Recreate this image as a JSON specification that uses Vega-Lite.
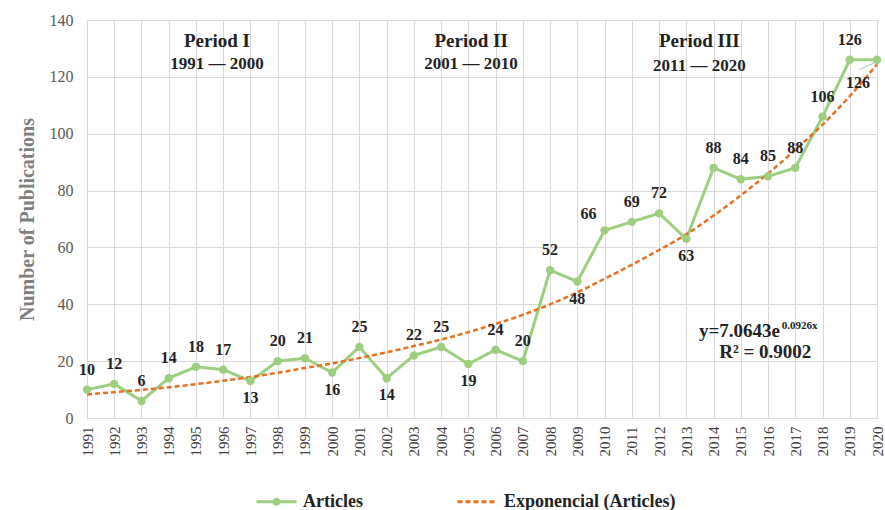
{
  "$schema": "https://vega.github.io/schema/vega-lite/v6.json",
  "width": 790,
  "height": 398,
  "autosize": "none",
  "padding": {"left": 87, "top": 20, "right": 8, "bottom": 92},
  "background": "white",
  "config": {
    "view": {"stroke": "#B0B0B0", "strokeWidth": 1},
    "font": "Liberation Serif",
    "legend": {
      "orient": "none", "legendX": 168, "legendY": 460, "direction": "horizontal",
      "title": null, "labelFont": "Liberation Serif", "labelFontSize": 18, "labelFontWeight": "bold",
      "labelColor": "#222222", "symbolType": "stroke", "symbolSize": 1600, "symbolStrokeWidth": 3,
      "columnPadding": 88, "labelOffset": 5, "labelLimit": 0, "padding": 0
    }
  },
  "datasets": {
    "articles": [
      {"year": 1991, "n": 10}, {"year": 1992, "n": 12}, {"year": 1993, "n": 6}, {"year": 1994, "n": 14},
      {"year": 1995, "n": 18}, {"year": 1996, "n": 17}, {"year": 1997, "n": 13}, {"year": 1998, "n": 20},
      {"year": 1999, "n": 21}, {"year": 2000, "n": 16}, {"year": 2001, "n": 25}, {"year": 2002, "n": 14},
      {"year": 2003, "n": 22}, {"year": 2004, "n": 25}, {"year": 2005, "n": 19}, {"year": 2006, "n": 24},
      {"year": 2007, "n": 20}, {"year": 2008, "n": 52}, {"year": 2009, "n": 48}, {"year": 2010, "n": 66},
      {"year": 2011, "n": 69}, {"year": 2012, "n": 72}, {"year": 2013, "n": 63}, {"year": 2014, "n": 88},
      {"year": 2015, "n": 84}, {"year": 2016, "n": 85}, {"year": 2017, "n": 88}, {"year": 2018, "n": 106},
      {"year": 2019, "n": 126}, {"year": 2020, "n": 126}
    ],
    "trend": [
      {"year": 1991, "n": 8.3}, {"year": 1992, "n": 9.1}, {"year": 1993, "n": 9.9}, {"year": 1994, "n": 10.8},
      {"year": 1995, "n": 11.9}, {"year": 1996, "n": 13.1}, {"year": 1997, "n": 14.4}, {"year": 1998, "n": 15.9},
      {"year": 1999, "n": 17.6}, {"year": 2000, "n": 19.2}, {"year": 2001, "n": 21.1}, {"year": 2002, "n": 23.1},
      {"year": 2003, "n": 25.3}, {"year": 2004, "n": 27.6}, {"year": 2005, "n": 30.2}, {"year": 2006, "n": 33.1},
      {"year": 2007, "n": 36.3}, {"year": 2008, "n": 40.0}, {"year": 2009, "n": 44.2}, {"year": 2010, "n": 49.0},
      {"year": 2011, "n": 53.9}, {"year": 2012, "n": 59.1}, {"year": 2013, "n": 64.6}, {"year": 2014, "n": 71.2},
      {"year": 2015, "n": 78.3}, {"year": 2016, "n": 86.0}, {"year": 2017, "n": 94.3}, {"year": 2018, "n": 103.2},
      {"year": 2019, "n": 113.2}, {"year": 2020, "n": 124.4}
    ],
    "periodTitles": [
      {"year": 1995.77, "n": 130.5, "label": "Period I"},
      {"year": 2005.1, "n": 130.5, "label": "Period II"},
      {"year": 2013.48, "n": 130.5, "label": "Period III"}
    ],
    "periodRanges": [
      {"year": 1995.77, "n": 122.6, "label": "1991 — 2000"},
      {"year": 2005.1, "n": 122.6, "label": "2001 — 2010"},
      {"year": 2013.48, "n": 122.2, "label": "2011 — 2020"}
    ],
    "eqMain": [{"year": 2016.44, "n": 28.6, "label": "y=7.0643e"}],
    "eqSup": [{"year": 2016.5, "n": 31.2, "label": "0.0926x"}],
    "eqR2": [{"year": 2015.9, "n": 21.2, "label": "R² = 0.9002"}],
    "dividers": [{"year": 2000}, {"year": 2010}],
    "leader": [{"year": 2019.35, "n": 122.5}, {"year": 2019.95, "n": 125.2}]
  },
  "encoding": {
    "x": {
      "field": "year", "type": "quantitative",
      "scale": {"domain": [1991, 2020], "nice": false, "zero": false},
      "axis": {
        "values": [1991,1992,1993,1994,1995,1996,1997,1998,1999,2000,2001,2002,2003,2004,2005,2006,2007,2008,2009,2010,2011,2012,2013,2014,2015,2016,2017,2018,2019,2020],
        "format": "d", "labelAngle": -90, "labelFontSize": 15, "labelColor": "#404040",
        "labelPadding": 8, "ticks": false, "domain": false, "grid": true, "gridColor": "#D9D9D9",
        "title": null, "labelFont": "Liberation Serif", "labelFlush": false, "labelOverlap": false
      }
    },
    "y": {
      "field": "n", "type": "quantitative",
      "scale": {"domain": [0, 140], "nice": false},
      "axis": {
        "values": [0, 20, 40, 60, 80, 100, 120, 140],
        "labelFontSize": 16, "labelColor": "#595959", "labelPadding": 14, "ticks": false,
        "domain": false, "grid": true, "gridColor": "#D9D9D9",
        "title": "Number of Publications", "titleFontSize": 20, "titleFontWeight": "bold",
        "titleColor": "#7F7F7F", "titlePadding": 12, "titleFont": "Liberation Serif",
        "labelFont": "Liberation Serif"
      }
    }
  },
  "layer": [
    {
      "data": {"name": "dividers"},
      "mark": {"type": "rule", "color": "#4472C4", "strokeWidth": 2},
      "encoding": {"y": {"datum": 0, "type": "quantitative"}, "y2": {"datum": 140}}
    },
    {
      "data": {"name": "articles"},
      "mark": {"type": "line", "strokeWidth": 3},
      "encoding": {
        "color": {
          "datum": "Articles", "type": "nominal",
          "scale": {"domain": ["Articles", "Exponencial (Articles)"], "range": ["#9CCF7E", "#E8701F"]},
          "legend": {
            "encode": {
              "symbols": {
                "update": {
                  "shape": {"signal": "datum.value === 'Articles' ? 'M-1,0H1M0.12,0A0.12,0.12 0 1 1 -0.12,0A0.12,0.12 0 1 1 0.12,0' : 'stroke'"}
                }
              }
            }
          }
        },
        "strokeDash": {
          "datum": "Articles", "type": "nominal",
          "scale": {"domain": ["Articles", "Exponencial (Articles)"], "range": [[1, 0], [5, 3]]}
        }
      }
    },
    {
      "data": {"name": "trend"},
      "mark": {"type": "line", "strokeWidth": 2.5, "interpolate": "monotone"},
      "encoding": {
        "color": {"datum": "Exponencial (Articles)", "type": "nominal"},
        "strokeDash": {"datum": "Exponencial (Articles)", "type": "nominal"}
      }
    },
    {
      "data": {"name": "leader"},
      "mark": {"type": "line", "color": "#BFBFBF", "strokeWidth": 1},
      "encoding": {}
    },
    {
      "data": {"name": "articles"},
      "mark": {"type": "point", "filled": true, "size": 70, "color": "#9CCF7E", "opacity": 1}
    },
    {
      "data": {"name": "articles"},
      "transform": [{"filter": {"not": {"field": "year", "oneOf": [1997, 2000, 2002, 2005, 2009, 2010, 2013, 2020]}}}],
      "mark": {"type": "text", "dy": -20, "fontSize": 16, "fontWeight": "bold", "color": "#222222", "baseline": "middle"},
      "encoding": {"text": {"field": "n"}}
    },
    {
      "data": {"name": "articles"},
      "transform": [{"filter": {"field": "year", "oneOf": [1997, 2000, 2002, 2005, 2009, 2013]}}],
      "mark": {"type": "text", "dy": 17, "fontSize": 16, "fontWeight": "bold", "color": "#222222", "baseline": "middle"},
      "encoding": {"text": {"field": "n"}}
    },
    {
      "data": {"name": "articles"},
      "transform": [{"filter": {"field": "year", "equal": 2010}}],
      "mark": {"type": "text", "dx": -16, "dy": -16, "fontSize": 16, "fontWeight": "bold", "color": "#222222", "baseline": "middle"},
      "encoding": {"text": {"field": "n"}}
    },
    {
      "data": {"name": "articles"},
      "transform": [{"filter": {"field": "year", "equal": 2020}}],
      "mark": {"type": "text", "dx": -19, "dy": 23, "fontSize": 16, "fontWeight": "bold", "color": "#222222", "baseline": "middle"},
      "encoding": {"text": {"field": "n"}}
    },
    {
      "data": {"name": "periodTitles"},
      "mark": {"type": "text", "fontSize": 19, "fontWeight": "bold", "color": "#222222", "baseline": "alphabetic"},
      "encoding": {"text": {"field": "label"}}
    },
    {
      "data": {"name": "periodRanges"},
      "mark": {"type": "text", "fontSize": 17, "fontWeight": "bold", "color": "#222222", "baseline": "alphabetic"},
      "encoding": {"text": {"field": "label"}}
    },
    {
      "data": {"name": "eqMain"},
      "mark": {"type": "text", "fontSize": 19, "fontWeight": "bold", "color": "#222222", "baseline": "alphabetic", "align": "right"},
      "encoding": {"text": {"field": "label"}}
    },
    {
      "data": {"name": "eqSup"},
      "mark": {"type": "text", "fontSize": 11, "fontWeight": "bold", "color": "#222222", "baseline": "alphabetic", "align": "left"},
      "encoding": {"text": {"field": "label"}}
    },
    {
      "data": {"name": "eqR2"},
      "mark": {"type": "text", "fontSize": 19, "fontWeight": "bold", "color": "#222222", "baseline": "alphabetic", "align": "center"},
      "encoding": {"text": {"field": "label"}}
    }
  ]
}
